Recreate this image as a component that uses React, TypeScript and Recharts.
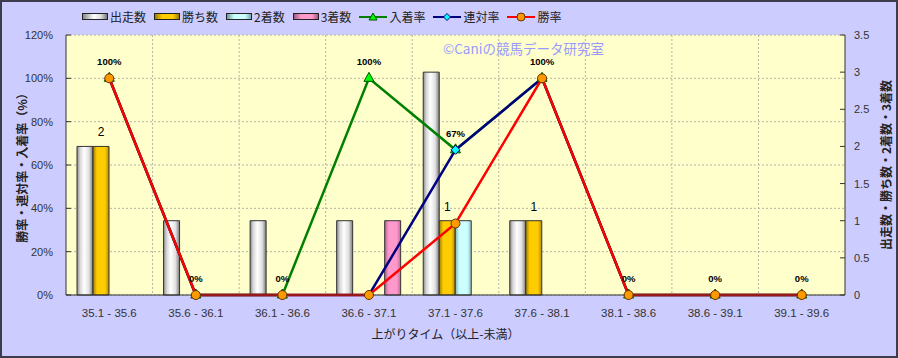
import React from 'react';
import {
  ComposedChart,
  Bar,
  Line,
  XAxis,
  YAxis,
  CartesianGrid,
  Legend,
  LabelList,
  Label,
} from 'recharts';

const categories = [
  '35.1 - 35.6',
  '35.6 - 36.1',
  '36.1 - 36.6',
  '36.6 - 37.1',
  '37.1 - 37.6',
  '37.6 - 38.1',
  '38.1 - 38.6',
  '38.6 - 39.1',
  '39.1 - 39.6',
];
const runs = [2, 1, 1, 1, 3, 1, 0, 0, 0];
const wins = [2, 0, 0, 0, 1, 1, 0, 0, 0];
const seconds = [0, 0, 0, 0, 1, 0, 0, 0, 0];
const thirds = [0, 0, 0, 1, 0, 0, 0, 0, 0];
const placeRate = [100, 0, 0, 100, 67, 100, 0, 0, 0];
const quinellaRate = [100, 0, 0, 0, 67, 100, 0, 0, 0];
const winRate = [100, 0, 0, 0, 33, 100, 0, 0, 0];
const leftTicks = [0, 20, 40, 60, 80, 100, 120];
const rightTicks = [0, 0.5, 1, 1.5, 2, 2.5, 3, 3.5];

const data = categories.map((name, i) => ({
  name,
  runs: runs[i],
  wins: wins[i],
  seconds: seconds[i],
  thirds: thirds[i],
  placeRate: placeRate[i],
  quinellaRate: quinellaRate[i],
  winRate: winRate[i],
}));

const NUM = '"Liberation Sans", Arial, "Noto Sans CJK JP", sans-serif';
const JP = '"Noto Sans CJK JP", "Liberation Sans", sans-serif';
const TEXT = '#333';

const W = 898;
const H = 358;

const LeftTick = (p: any) => {
  const { x, y, payload } = p;
  const ax = x + 13;
  return (
    <g>
      <text x={x} y={y} dy={4} textAnchor="end" fontSize={11} fontFamily={NUM} fill={TEXT}>
        {payload.value}%
      </text>
      <line x1={ax} x2={ax + 5} y1={y} y2={y} stroke="#333" />
    </g>
  );
};

const RightTick = (p: any) => {
  const { x, y, payload } = p;
  const ax = x - 9;
  return (
    <g>
      <text x={x} y={y} dy={4} textAnchor="start" fontSize={11} fontFamily={NUM} fill={TEXT}>
        {payload.value}
      </text>
      <line x1={ax - 5} x2={ax} y1={y} y2={y} stroke="#333" />
    </g>
  );
};

const XTick = (p: any) => {
  const { x, y, payload } = p;
  return (
    <text x={x} y={y + 22} textAnchor="middle" fontSize={11.5} fontFamily={NUM} fill={TEXT}>
      {payload.value}
    </text>
  );
};

const Triangle = (p: any) => {
  const { cx, cy } = p;
  if (cx == null || cy == null) return <g />;
  return (
    <polygon
      points={`${cx},${cy - 6} ${cx - 5},${cy + 3} ${cx + 5},${cy + 3}`}
      fill="#00FF00"
      stroke="#005000"
      strokeWidth={1}
    />
  );
};

const Diamond = (p: any) => {
  const { cx, cy } = p;
  if (cx == null || cy == null) return <g />;
  return (
    <polygon
      points={`${cx},${cy - 4.5} ${cx + 4.5},${cy} ${cx},${cy + 4.5} ${cx - 4.5},${cy}`}
      fill="#00FFFF"
      stroke="#000080"
      strokeWidth={1}
    />
  );
};

const Circle = (p: any) => {
  const { cx, cy } = p;
  if (cx == null || cy == null) return <g />;
  return <circle cx={cx} cy={cy} r={4.5} fill="#FF9900" stroke="#663300" strokeWidth={1} />;
};

const RateLabel = (p: any) => {
  const { x, y, value } = p;
  return (
    <text x={x} y={y - 13} textAnchor="middle" fontSize={9.5} fontWeight="bold" fontFamily={NUM} fill="#000">
      {value}%
    </text>
  );
};

const WinCountLabel = (p: any) => {
  const { x, y, width, value } = p;
  if (!value) return null;
  return (
    <text x={x + width / 2} y={y - 10} textAnchor="middle" fontSize={12} fontFamily={NUM} fill="#000">
      {value}
    </text>
  );
};

const barIcon = (label: string, bg: string) => (
  <div key={label} style={{ display: 'flex', alignItems: 'center', marginRight: 8 }}>
    <div
      style={{
        width: 24,
        height: 5,
        border: '1px solid #222',
        background: bg,
        marginRight: 2,
      }}
    />
    <span>{label}</span>
  </div>
);

const lineIcon = (label: string, color: string, marker: React.ReactNode) => (
  <div key={label} style={{ display: 'flex', alignItems: 'center', marginRight: 8 }}>
    <svg width={28} height={10} style={{ marginRight: 2 }}>
      <line x1={0} y1={5} x2={28} y2={5} stroke={color} strokeWidth={2} />
      {marker}
    </svg>
    <span>{label}</span>
  </div>
);

const LegendContent = () => (
  <div
    style={{
      height: 35,
      display: 'flex',
      alignItems: 'center',
      paddingLeft: 82,
      paddingBottom: 2,
      boxSizing: 'border-box',
      fontFamily: JP,
      fontSize: 12,
      color: '#222',
      whiteSpace: 'nowrap',
    }}
  >
    {barIcon('出走数', 'linear-gradient(to right, #888, #fff 45%, #ddd 75%, #777)')}
    {barIcon('勝ち数', 'linear-gradient(to right, #9a7a00, #FFCC00 30%, #FFCC00 75%, #9a7a00)')}
    {barIcon('2着数', 'linear-gradient(to right, #6a9a9a, #CCFFFF 30%, #CCFFFF 75%, #7aa)')}
    {barIcon('3着数', 'linear-gradient(to right, #a05a80, #FF99CC 30%, #FF99CC 75%, #a05a80)')}
    {lineIcon(
      '入着率',
      '#008000',
      <polygon points="14,1 10,8 18,8" fill="#00FF00" stroke="#005000" strokeWidth={1} />
    )}
    {lineIcon(
      '連対率',
      '#000080',
      <polygon points="14,1.5 17.5,5 14,8.5 10.5,5" fill="#00FFFF" stroke="#000080" strokeWidth={1} />
    )}
    {lineIcon('勝率', '#FF0000', <circle cx={14} cy={5} r={4} fill="#FF9900" stroke="#663300" />)}
  </div>
);

const LeftTitle = (p: any) => {
  const vb = p.viewBox || {};
  const cx = (vb.x || 0) + 21;
  const cy = (vb.y || 0) + (vb.height || 0) / 2;
  return (
    <text
      x={cx}
      y={cy}
      transform={`rotate(-90 ${cx} ${cy})`}
      textAnchor="middle"
      dominantBaseline="central"
      fontSize={12}
      fontWeight="bold"
      fontFamily={JP}
      fill="#222"
    >
      勝率・連対率・入着率（%）
    </text>
  );
};

const RightTitle = (p: any) => {
  const vb = p.viewBox || {};
  const cx = (vb.x || 0) + 40;
  const cy = (vb.y || 0) + (vb.height || 0) / 2;
  return (
    <text
      x={cx}
      y={cy}
      transform={`rotate(-90 ${cx} ${cy})`}
      textAnchor="middle"
      dominantBaseline="central"
      fontSize={12}
      fontWeight="bold"
      fontFamily={JP}
      fill="#222"
    >
      出走数・勝ち数・2着数・3着数
    </text>
  );
};

const XTitle = (p: any) => {
  const vb = p.viewBox || {};
  const cx = (vb.x || 0) + (vb.width || 0) / 2 - 10;
  const cy = (vb.y || 0) + 38;
  return (
    <text x={cx} y={cy} textAnchor="middle" dominantBaseline="central" fontSize={12} fontFamily={JP} fill="#222">
      上がりタイム（以上-未満）
    </text>
  );
};

export default function App() {
  return (
    <div
      style={{
        position: 'fixed',
        left: 0,
        top: 0,
        width: W,
        height: H,
        background: '#CCCCFF',
      }}
    >
      <ComposedChart
        width={W}
        height={H}
        data={data}
        margin={{ top: 0, right: 0, bottom: 0, left: 0 }}
        barGap={0}
        barSize={16}
      >
        <defs>
          <linearGradient id="gRuns" x1="0" y1="0" x2="1" y2="0">
            <stop offset="0" stopColor="#8a8a8a" />
            <stop offset="0.2" stopColor="#d8d8d8" />
            <stop offset="0.45" stopColor="#ffffff" />
            <stop offset="0.75" stopColor="#e0e0e0" />
            <stop offset="1" stopColor="#7a7a7a" />
          </linearGradient>
          <linearGradient id="gWins" x1="0" y1="0" x2="1" y2="0">
            <stop offset="0" stopColor="#a07f00" />
            <stop offset="0.25" stopColor="#FFCC00" />
            <stop offset="0.75" stopColor="#FFCC00" />
            <stop offset="1" stopColor="#b08c00" />
          </linearGradient>
          <linearGradient id="gSeconds" x1="0" y1="0" x2="1" y2="0">
            <stop offset="0" stopColor="#7fb0b0" />
            <stop offset="0.25" stopColor="#CCFFFF" />
            <stop offset="0.75" stopColor="#CCFFFF" />
            <stop offset="1" stopColor="#8fc0c0" />
          </linearGradient>
          <linearGradient id="gThirds" x1="0" y1="0" x2="1" y2="0">
            <stop offset="0" stopColor="#b0608a" />
            <stop offset="0.25" stopColor="#FF99CC" />
            <stop offset="0.75" stopColor="#FF99CC" />
            <stop offset="1" stopColor="#c06a96" />
          </linearGradient>
        </defs>
        <Legend verticalAlign="top" align="left" content={LegendContent} />
        <CartesianGrid
          yAxisId="left"
          fill="#FFFFCC"
          fillOpacity={1}
          stroke="#b4b4a8"
          strokeDasharray="2 2"
          verticalCoordinatesGenerator={({ offset }: any) =>
            categories.slice(1).map((_, i) => offset.left + (offset.width * (i + 1)) / categories.length)
          }
        />
        <XAxis
          dataKey="name"
          tick={XTick}
          tickLine={false}
          tickSize={0}
          tickMargin={0}
          height={63}
          axisLine={{ stroke: '#333' }}
          interval={0}
        >
          <Label content={XTitle} />
        </XAxis>
        <YAxis
          yAxisId="left"
          orientation="left"
          width={66}
          domain={[0, 120]}
          ticks={leftTicks}
          tick={LeftTick}
          tickLine={false}
          tickSize={0}
          tickMargin={13}
          axisLine={{ stroke: '#333' }}
          interval={0}
        >
          <Label content={LeftTitle} />
        </YAxis>
        <YAxis
          yAxisId="right"
          orientation="right"
          width={53}
          domain={[0, 3.5]}
          ticks={rightTicks}
          tick={RightTick}
          tickLine={false}
          tickSize={0}
          tickMargin={9}
          axisLine={{ stroke: '#333' }}
          interval={0}
        >
          <Label content={RightTitle} />
        </YAxis>
        <Bar yAxisId="right" dataKey="runs" name="出走数" fill="url(#gRuns)" stroke="#333" strokeWidth={1} isAnimationActive={false} />
        <Bar yAxisId="right" dataKey="wins" name="勝ち数" fill="url(#gWins)" stroke="#333" strokeWidth={1} isAnimationActive={false}>
          <LabelList dataKey="wins" content={WinCountLabel} />
        </Bar>
        <Bar yAxisId="right" dataKey="seconds" name="2着数" fill="url(#gSeconds)" stroke="#333" strokeWidth={1} isAnimationActive={false} />
        <Bar yAxisId="right" dataKey="thirds" name="3着数" fill="url(#gThirds)" stroke="#333" strokeWidth={1} isAnimationActive={false} />
        <Line
          yAxisId="left"
          type="linear"
          dataKey="placeRate"
          name="入着率"
          stroke="#008000"
          strokeWidth={2.5}
          dot={Triangle}
          activeDot={false}
          isAnimationActive={false}
        >
          <LabelList dataKey="placeRate" content={RateLabel} />
        </Line>
        <Line
          yAxisId="left"
          type="linear"
          dataKey="quinellaRate"
          name="連対率"
          stroke="#000080"
          strokeWidth={2.5}
          dot={Diamond}
          activeDot={false}
          isAnimationActive={false}
        />
        <Line
          yAxisId="left"
          type="linear"
          dataKey="winRate"
          name="勝率"
          stroke="#FF0000"
          strokeWidth={2.5}
          dot={Circle}
          activeDot={false}
          isAnimationActive={false}
        />
      </ComposedChart>
      <div
        style={{
          position: 'absolute',
          left: 443,
          top: 40,
          fontFamily: JP,
          fontSize: 13.5,
          lineHeight: '16px',
          color: '#9999FF',
          whiteSpace: 'nowrap',
          pointerEvents: 'none',
        }}
      >
        ©Caniの競馬データ研究室
      </div>
      <div
        style={{
          position: 'absolute',
          left: 0,
          top: 0,
          width: W,
          height: H,
          boxSizing: 'border-box',
          border: '2px solid #3c3c4c',
          pointerEvents: 'none',
        }}
      />
    </div>
  );
}
